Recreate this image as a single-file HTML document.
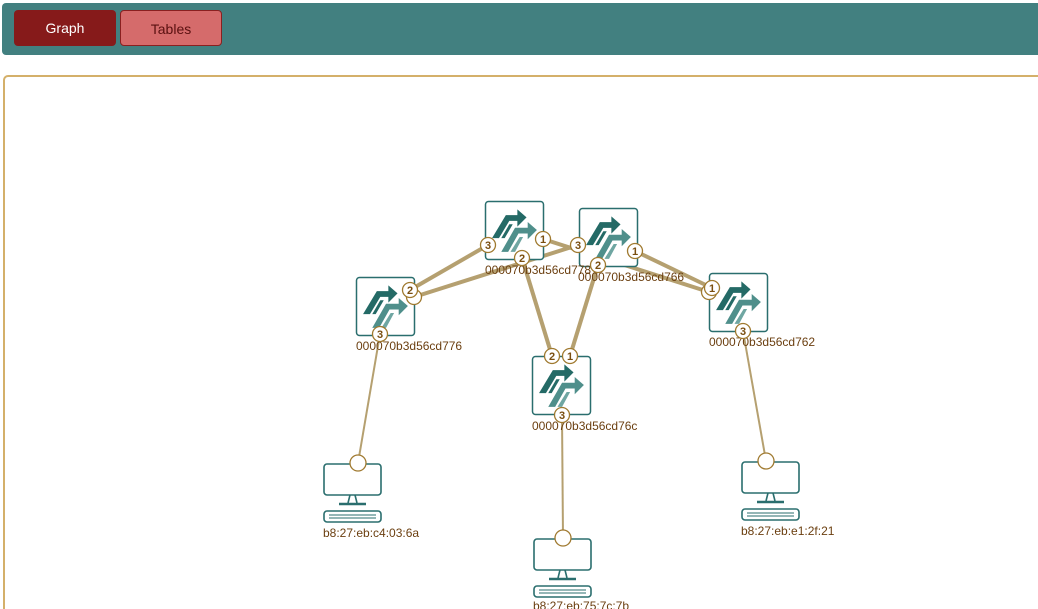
<!DOCTYPE html>
<html style="width:1038px;height:609px;overflow:hidden;"><head><style>
body{margin:0;width:1038px;height:609px;overflow:hidden;background:#fff;font-family:"Liberation Sans",sans-serif;position:relative;}
.bar{position:absolute;left:2px;top:3px;width:1036px;height:52px;background:#428080;border-radius:4px 0 0 4px;}
.btn{position:absolute;top:7px;height:36px;border-radius:4px;font-size:14px;line-height:36px;text-align:center;box-sizing:border-box;}
.panel{position:absolute;left:3px;top:75px;width:1035px;height:534px;border:2px solid #d4b06a;border-bottom:none;border-right:none;border-radius:5px 0 0 0;box-sizing:border-box;}
svg{position:absolute;left:0;top:0;}
</style></head><body>
<div class="bar">
<div class="btn" style="left:12px;width:102px;background:#861a1a;color:#fff;">Graph</div>
<div class="btn" style="left:118px;width:102px;background:#d56b6b;color:#5a1010;border:1px solid #8a2020;">Tables</div>
</div>
<div class="panel"></div>
<svg width="1038" height="609" font-family="Liberation Sans, sans-serif">
<defs>
<g id="sw">
<rect x="0.5" y="0.5" width="58" height="58" rx="3" fill="#fff" stroke="#2a6e6e" stroke-width="1.5"/>
<g transform="translate(-1,-2) scale(1.15)">
<polygon points="7,34 13,34 22,19 29,19 29,24 37,16 29,9 29,14 19,14" fill="#246a66"/>
<polygon points="15,34 18,34 25,22 22,22" fill="#246a66"/>
<polygon points="15,46 21,46 30,30 38,30 38,35 46,27 38,20 38,25 27,25" fill="#4f8f8b"/>
<polygon points="23,46 27,46 34,33 31,33" fill="#6fa6a2"/>
</g>
</g>
<g id="pc" fill="none" stroke="#2a6e6e" stroke-width="1.6">
<rect x="1" y="1" width="57" height="31" rx="3" fill="#fff"/>
<path d="M27 32 L25 40 M32 32 L34 40"/>
<path d="M16 41 H43" stroke-width="2.5"/>
<rect x="1" y="48" width="57" height="11" rx="3" fill="#fff"/>
<path d="M6 52 H53 M6 55 H53" stroke-width="1"/>
</g>
</defs>
<g stroke="#b5a070" stroke-width="4" fill="none">
<line x1="488" y1="245" x2="410" y2="290"/>
<line x1="414" y1="297" x2="578" y2="245"/>
<line x1="522" y1="258" x2="552" y2="356"/>
<line x1="543" y1="239" x2="709" y2="292"/>
<line x1="635" y1="251" x2="712" y2="288"/>
<line x1="598" y1="265" x2="570" y2="356"/>
</g>
<g stroke="#b5a070" stroke-width="2">
<line x1="380" y1="334" x2="358" y2="463"/>
<line x1="562" y1="415" x2="563" y2="538"/>
<line x1="743" y1="331" x2="766" y2="461"/>
</g>
<use href="#sw" x="485" y="201"/>
<use href="#sw" x="579" y="208"/>
<use href="#sw" x="356" y="277"/>
<use href="#sw" x="709" y="273"/>
<use href="#sw" x="532" y="356"/>
<use href="#pc" x="323" y="463"/>
<use href="#pc" x="533" y="538"/>
<use href="#pc" x="741" y="461"/>
<g font-size="12" fill="#6b3f10">
<text x="485" y="274">000070b3d56cd778</text>
<text x="578" y="281">000070b3d56cd766</text>
<text x="356" y="350">000070b3d56cd776</text>
<text x="709" y="346">000070b3d56cd762</text>
<text x="532" y="430">000070b3d56cd76c</text>
<text x="323" y="537">b8:27:eb:c4:03:6a</text>
<text x="741" y="535">b8:27:eb:e1:2f:21</text>
<text x="533" y="610">b8:27:eb:75:7c:7b</text>
</g>
<g fill="#fff" stroke="#a07a30" stroke-width="1.3">
<circle cx="414" cy="297" r="7.5"/><circle cx="709" cy="292" r="7.5"/>
<circle cx="488" cy="245" r="7.5"/><circle cx="543" cy="239" r="7.5"/><circle cx="522" cy="258" r="7.5"/>
<circle cx="578" cy="245" r="7.5"/><circle cx="635" cy="251" r="7.5"/><circle cx="598" cy="265" r="7.5"/>
<circle cx="410" cy="290" r="7.5"/><circle cx="380" cy="334" r="7.5"/>
<circle cx="712" cy="288" r="7.5"/><circle cx="743" cy="331" r="7.5"/>
<circle cx="552" cy="356" r="7.5"/><circle cx="570" cy="356" r="7.5"/><circle cx="562" cy="415" r="7.5"/>
<circle cx="358" cy="463" r="8"/><circle cx="563" cy="538" r="8"/><circle cx="766" cy="461" r="8"/>
</g>
<g font-size="11" font-weight="bold" fill="#7a4e10" text-anchor="middle">
<text x="488" y="249">3</text><text x="543" y="243">1</text><text x="522" y="262">2</text>
<text x="578" y="249">3</text><text x="635" y="255">1</text><text x="598" y="269">2</text>
<text x="410" y="294">2</text><text x="380" y="338">3</text>
<text x="712" y="292">1</text><text x="743" y="335">3</text>
<text x="552" y="360">2</text><text x="570" y="360">1</text><text x="562" y="419">3</text>
</g>
</svg>
</body></html>
